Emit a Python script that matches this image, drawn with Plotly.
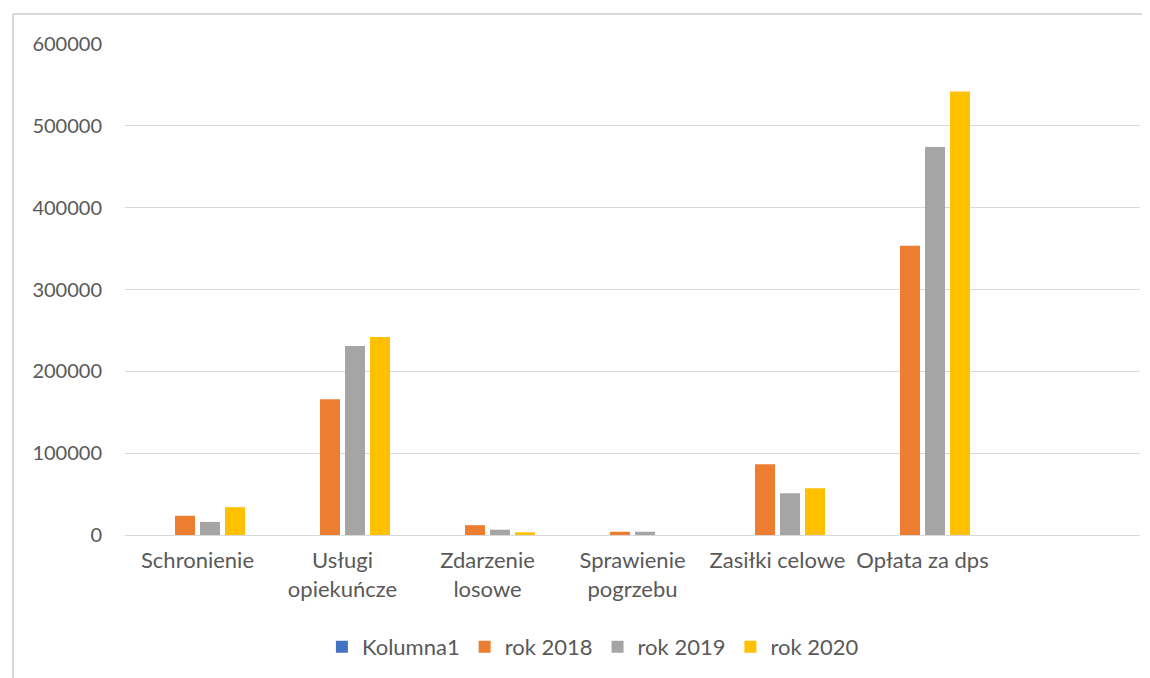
import plotly.graph_objects as go

categories = ["Schronienie", "Usługi<br>opiekuńcze", "Zdarzenie<br>losowe",
              "Sprawienie<br>pogrzebu", "Zasiłki celowe", "Opłata za dps"]
kolumna1 = [None, None, None, None, None, None]
rok_2018 = [23500, 166000, 12000, 4000, 86500, 353500]
rok_2019 = [16000, 231000, 6500, 4000, 51000, 474000]
rok_2020 = [34000, 242000, 3300, 0, 57000, 542000]
tick_vals = [0, 100000, 200000, 300000, 400000, 500000, 600000]
tick_text = ["0", "100000", "200000", "300000", "400000", "500000", "600000"]

FONT = "Lato, Liberation Sans, sans-serif"
TXT = "#595959"

fig = go.Figure()
series = [("Kolumna1", kolumna1, "#4472C4"),
          ("rok 2018", rok_2018, "#ED7D31"),
          ("rok 2019", rok_2019, "#A5A5A5"),
          ("rok 2020", rok_2020, "#FFC000")]
for name, vals, col in series:
    fig.add_trace(go.Bar(x=categories, y=vals, name=name, marker_color=col,
                         marker_line_width=0))

fig.update_layout(
    width=1150, height=678,
    paper_bgcolor="white", plot_bgcolor="white",
    margin=dict(l=117, r=18, t=36, b=151),
    barmode="group", bargap=0.31, bargroupgap=0.2,
    font=dict(family=FONT, size=21, color=TXT),
    showlegend=True,
    legend=dict(orientation="h", x=0.461, xanchor="center", y=-0.228, yanchor="middle",
                font=dict(family=FONT, size=22, color=TXT), itemwidth=30,
                traceorder="normal"),
    xaxis=dict(type="category", range=[-0.5, 6.5], showgrid=False, showline=False,
               ticks="", ticklabelstandoff=10,
               tickfont=dict(family=FONT, size=22, color=TXT)),
    yaxis=dict(range=[0, 600000], tickvals=tick_vals, ticktext=tick_text,
               showgrid=True, gridcolor="#D9D9D9", gridwidth=1,
               zeroline=True, zerolinecolor="#D9D9D9", zerolinewidth=1,
               showline=False, ticks="", ticklabelstandoff=22,
               tickfont=dict(family=FONT, size=20, color=TXT)),
    shapes=[
        dict(type="line", xref="paper", yref="paper", x0=-0.1103, x1=1.02,
             y0=1.0611, y1=1.0611, line=dict(color="#D9D9D9", width=2)),
        dict(type="line", xref="paper", yref="paper", x0=-0.1103, x1=-0.1103,
             y0=1.0611, y1=-0.3, line=dict(color="#D9D9D9", width=2)),
    ],
)

fig.write_html("out.html")
